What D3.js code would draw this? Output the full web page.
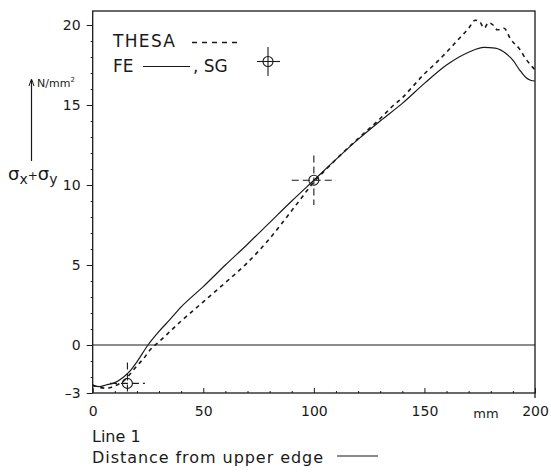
<!DOCTYPE html>
<html><head><meta charset="utf-8">
<script src="https://cdn.jsdelivr.net/npm/d3@7"></script>
<style>
body{margin:0;background:#fff;}
text{font-family:"DejaVu Sans","Liberation Sans",sans-serif;fill:#1a1a1a;}
</style></head>
<body><svg id="c" width="551" height="472"></svg>
<script>
// Data
const feX   = [0,3,6,10,14,17,20,25,30,35,40,50,60,70,80,90,100,110,120,130,140,150,160,170,177,182,187,190,193,196,198,200];
const feY   = [-2.55,-2.6,-2.5,-2.35,-2.0,-1.6,-1.05,0,0.85,1.6,2.38,3.65,5.0,6.3,7.65,9.0,10.3,11.6,12.85,14.0,15.1,16.35,17.5,18.3,18.6,18.55,18.2,17.8,17.2,16.7,16.55,16.5];
const thesaX = [0,3,6,10,14,17,20,23,26,30,35,40,45,50,60,70,80,90,95,100,105,110,120,130,135,140,145,150,155,160,165,170,173,175,177,179,181,183,186,189,193,196,199,200];
const thesaY = [-2.5,-2.65,-2.7,-2.55,-2.25,-1.8,-1.3,-0.85,-0.3,0.2,0.85,1.5,2.1,2.7,3.9,5.15,6.65,8.4,9.3,10.2,10.9,11.6,12.9,14.15,14.85,15.45,16.2,16.95,17.6,18.3,19.05,19.8,20.3,20.2,19.8,20.15,20.0,19.7,19.8,19.1,18.5,17.85,17.35,17.2];
const sgX = [15.7, 100];
const sgY = [-2.4, 10.3];
const sgXErr = [7.9, 10];
const sgYErr = [1.3, 1.55];
const yTicks = [-3, 0, 5, 10, 15, 20];
const xTicks = [0, 50, 100, 150, 200];

const svg = d3.select("#c");
const ink = "#1a1a1a";
const x = d3.scaleLinear().domain([0,200]).range([92.7,535]);
const y = d3.scaleLinear().domain([-3,20.875]).range([393,11]);

// clip
svg.append("clipPath").attr("id","pc").append("rect")
  .attr("x",x(0)).attr("y",y(20.875)).attr("width",x(200)-x(0)).attr("height",y(-3)-y(20.875));

// frame
svg.append("rect").attr("x",x(0)).attr("y",y(20.875)).attr("width",x(200)-x(0)).attr("height",y(-3)-y(20.875))
  .attr("fill","none").attr("stroke",ink).attr("stroke-width",1.3);
svg.append("line").attr("x1",x(200)).attr("x2",x(200)).attr("y1",y(-3)).attr("y2",y(-3)+5).attr("stroke",ink).attr("stroke-width",1.3);

// zero line
svg.append("line").attr("x1",x(0)).attr("x2",x(200)).attr("y1",y(0)).attr("y2",y(0)).attr("stroke",ink).attr("stroke-width",1.1);

// y axis major
const ya = svg.append("g").attr("transform",`translate(${x(0)},0)`)
  .call(d3.axisLeft(y).tickValues(yTicks).tickSize(6).tickPadding(6).tickFormat(d=>d<0?"\u2013"+(-d):d));
ya.select(".domain").remove();
ya.selectAll("text").attr("font-size",14).style("font-family","DejaVu Sans").attr("fill",ink);
ya.selectAll("line").attr("stroke",ink);
// y minor
const yminor = d3.range(-3,21,1).filter(v=>!yTicks.includes(v));
const ym = svg.append("g").attr("transform",`translate(${x(0)},0)`)
  .call(d3.axisLeft(y).tickValues(yminor).tickSize(2).tickFormat(""));
ym.select(".domain").remove();
ym.selectAll("line").attr("stroke",ink);

// x axis major (ticks inward)
const xa = svg.append("g").attr("transform",`translate(0,${y(-3)})`)
  .call(d3.axisBottom(x).tickValues(xTicks).tickSizeInner(-5).tickSizeOuter(0).tickPadding(13));
xa.select(".domain").remove();
xa.selectAll("text").attr("font-size",14).style("font-family","DejaVu Sans").attr("fill",ink);
xa.selectAll("line").attr("stroke",ink);
const xminor = d3.range(10,200,10).filter(v=>!xTicks.includes(v));
const xm = svg.append("g").attr("transform",`translate(0,${y(-3)})`)
  .call(d3.axisBottom(x).tickValues(xminor).tickSizeInner(-2).tickSizeOuter(0).tickFormat(""));
xm.select(".domain").remove();
xm.selectAll("line").attr("stroke",ink);
svg.append("text").attr("x",486).attr("y",418).attr("text-anchor","middle").attr("font-size",13).text("mm");

// lines
const line = d3.line().x(d=>x(d[0])).y(d=>y(d[1])).curve(d3.curveMonotoneX);
const g = svg.append("g").attr("clip-path","url(#pc)");
g.append("path").datum(feX.map((v,i)=>[v,feY[i]])).attr("d",line)
  .attr("fill","none").attr("stroke",ink).attr("stroke-width",1.2);
g.append("path").datum(thesaX.map((v,i)=>[v,thesaY[i]])).attr("d",line)
  .attr("fill","none").attr("stroke",ink).attr("stroke-width",1.6).attr("stroke-dasharray","4,4");

// SG markers
function sgMarker(sel, cx, cy, hx0, hx1, vy0, vy1){
  sel.append("line").attr("x1",hx0).attr("x2",hx1).attr("y1",cy).attr("y2",cy)
    .attr("stroke",ink).attr("stroke-width",1.1).attr("stroke-dasharray","7,4");
  sel.append("line").attr("x1",cx).attr("x2",cx).attr("y1",vy0).attr("y2",vy1)
    .attr("stroke",ink).attr("stroke-width",1.1).attr("stroke-dasharray","7,4");
  sel.append("circle").attr("cx",cx).attr("cy",cy).attr("r",5).attr("fill","none").attr("stroke",ink).attr("stroke-width",1.1);
}
sgX.forEach((v,i)=>{
  sgMarker(g, x(v), y(sgY[i]), x(v-sgXErr[i]), x(v+sgXErr[i]), y(sgY[i]+sgYErr[i]), y(sgY[i]-sgYErr[i]));
});

// legend
svg.append("text").attr("x",113).attr("y",47).attr("font-size",17).attr("textLength",62).text("THESA");
svg.append("line").attr("x1",192).attr("x2",238).attr("y1",42.5).attr("y2",42.5).attr("stroke",ink).attr("stroke-width",1.5).attr("stroke-dasharray","5,5");
svg.append("text").attr("x",113).attr("y",72).attr("font-size",17).text("FE");
svg.append("line").attr("x1",143).attr("x2",190).attr("y1",66.5).attr("y2",66.5).attr("stroke",ink).attr("stroke-width",1.2);
svg.append("text").attr("x",193).attr("y",72).attr("font-size",17).text(", SG");
const lg = svg.append("g");
lg.append("line").attr("x1",257).attr("x2",280).attr("y1",61.5).attr("y2",61.5).attr("stroke",ink).attr("stroke-width",1.1);
lg.append("line").attr("x1",268).attr("x2",268).attr("y1",47).attr("y2",76).attr("stroke",ink).attr("stroke-width",1.1);
lg.append("circle").attr("cx",268).attr("cy",61.5).attr("r",5).attr("fill","none").attr("stroke",ink).attr("stroke-width",1.1);

// y label
svg.append("line").attr("x1",31.5).attr("x2",31.5).attr("y1",80).attr("y2",161).attr("stroke",ink).attr("stroke-width",1.2);
svg.append("path").attr("d","M29,86 L31.5,79 L34,86").attr("fill","none").attr("stroke",ink).attr("stroke-width",1);
const nt = svg.append("text").attr("x",37).attr("y",87).attr("font-size",11);
nt.append("tspan").text("N/mm");
nt.append("tspan").attr("dy",-5).attr("font-size",7).text("2");
const yl = svg.append("text").attr("x",8).attr("y",180).attr("font-size",18);
yl.append("tspan").text("σ");
yl.append("tspan").attr("dy",4).attr("font-size",14).text("x");
yl.append("tspan").attr("dy",-4).attr("font-size",12).text("+");
yl.append("tspan").text("σ");
yl.append("tspan").attr("dy",4).attr("font-size",14).text("y");

// x labels
svg.append("text").attr("x",92).attr("y",442).attr("font-size",16).text("Line 1");
svg.append("text").attr("x",92).attr("y",463).attr("font-size",16).attr("textLength",231).text("Distance from upper edge");
svg.append("line").attr("x1",337).attr("x2",378).attr("y1",456).attr("y2",456).attr("stroke",ink).attr("stroke-width",1.2);
</script></body></html>
